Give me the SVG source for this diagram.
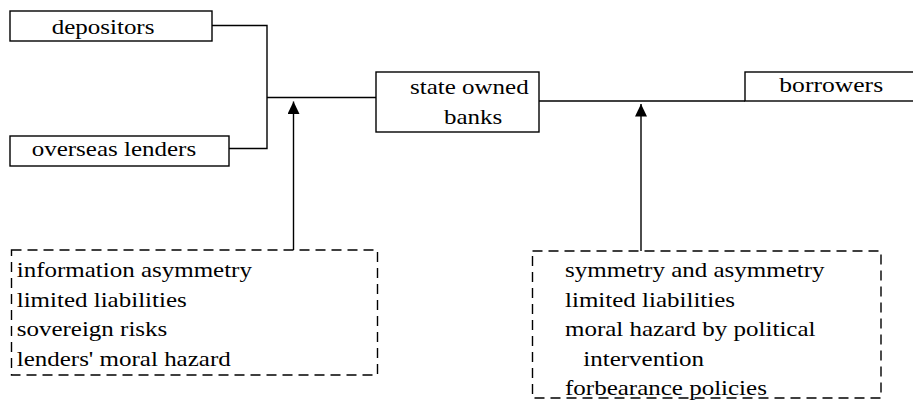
<svg xmlns="http://www.w3.org/2000/svg" width="913" height="407" viewBox="0 0 913 407">
  <style>
    .box { fill: #fff; stroke: #000; stroke-width: 1.4; }
    .dash { fill: none; stroke: #000; stroke-width: 1.4; stroke-dasharray: 10 6; }
    .wire { fill: none; stroke: #000; stroke-width: 1.4; }
    .lbl { font-family: "Liberation Serif", "Times New Roman", serif; font-size: 21px; font-style: normal; font-weight: 400; fill: #000; }
  </style>
  <defs>
    <!-- solid triangular head, tip at the end of the line -->
    <marker id="head" markerWidth="13" markerHeight="12" refX="12.5" refY="6" orient="auto" markerUnits="userSpaceOnUse" viewBox="0 0 13 12">
      <path d="M0,0 L12.5,6 L0,12 Z" fill="#000"/>
    </marker>
  </defs>
  <rect width="913" height="407" fill="#fff"/>

  <g id="connectors">
    <polyline class="wire" points="212,25.5 267,25.5 267,148.5 229,148.5"/>
    <line class="wire" x1="267" y1="97.5" x2="376" y2="97.5"/>
    <line class="wire" x1="539" y1="101" x2="745" y2="101"/>
    <line class="wire" x1="293.5" y1="250" x2="293.5" y2="101.5" marker-end="url(#head)"/>
    <line class="wire" x1="641" y1="251" x2="641" y2="104" marker-end="url(#head)"/>
  </g>

  <!-- labels are set at 21px and widened to the box layout with a horizontal scale -->
  <g id="depositors">
    <rect class="box" x="10" y="11" width="202" height="30"/>
    <text class="lbl" transform="translate(51.7 34) scale(1.19 1)">depositors</text>
  </g>

  <g id="overseas-lenders">
    <rect class="box" x="10" y="136" width="219" height="30"/>
    <text class="lbl" transform="translate(31.7 155.5) scale(1.19 1)">overseas lenders</text>
  </g>

  <g id="state-owned-banks">
    <rect class="box" x="376" y="72" width="163" height="60"/>
    <text class="lbl" transform="translate(410 93.5) scale(1.19 1)">state owned</text>
    <text class="lbl" transform="translate(444 123.5) scale(1.19 1)">banks</text>
  </g>

  <g id="borrowers">
    <rect class="box" x="745" y="72" width="200" height="29"/>
    <text class="lbl" transform="translate(779.3 92) scale(1.22 1)">borrowers</text>
  </g>

  <g id="lender-side-factors">
    <rect class="dash" x="11.5" y="250" width="366" height="125"/>
    <text class="lbl" transform="translate(16.7 277) scale(1.19 1)">information asymmetry</text>
    <text class="lbl" transform="translate(16.7 306.5) scale(1.19 1)">limited liabilities</text>
    <text class="lbl" transform="translate(16.7 336) scale(1.19 1)">sovereign risks</text>
    <text class="lbl" transform="translate(16.7 365.5) scale(1.19 1)">lenders' moral hazard</text>
  </g>

  <g id="borrower-side-factors">
    <rect class="dash" x="532.5" y="251" width="348.5" height="147"/>
    <text class="lbl" transform="translate(565 277) scale(1.19 1)">symmetry and asymmetry</text>
    <text class="lbl" transform="translate(565 306.5) scale(1.19 1)">limited liabilities</text>
    <text class="lbl" transform="translate(565 336) scale(1.19 1)">moral hazard by political</text>
    <text class="lbl" transform="translate(583.3 365.5) scale(1.19 1)">intervention</text>
    <text class="lbl" transform="translate(565 395) scale(1.19 1)">forbearance policies</text>
  </g>
</svg>
